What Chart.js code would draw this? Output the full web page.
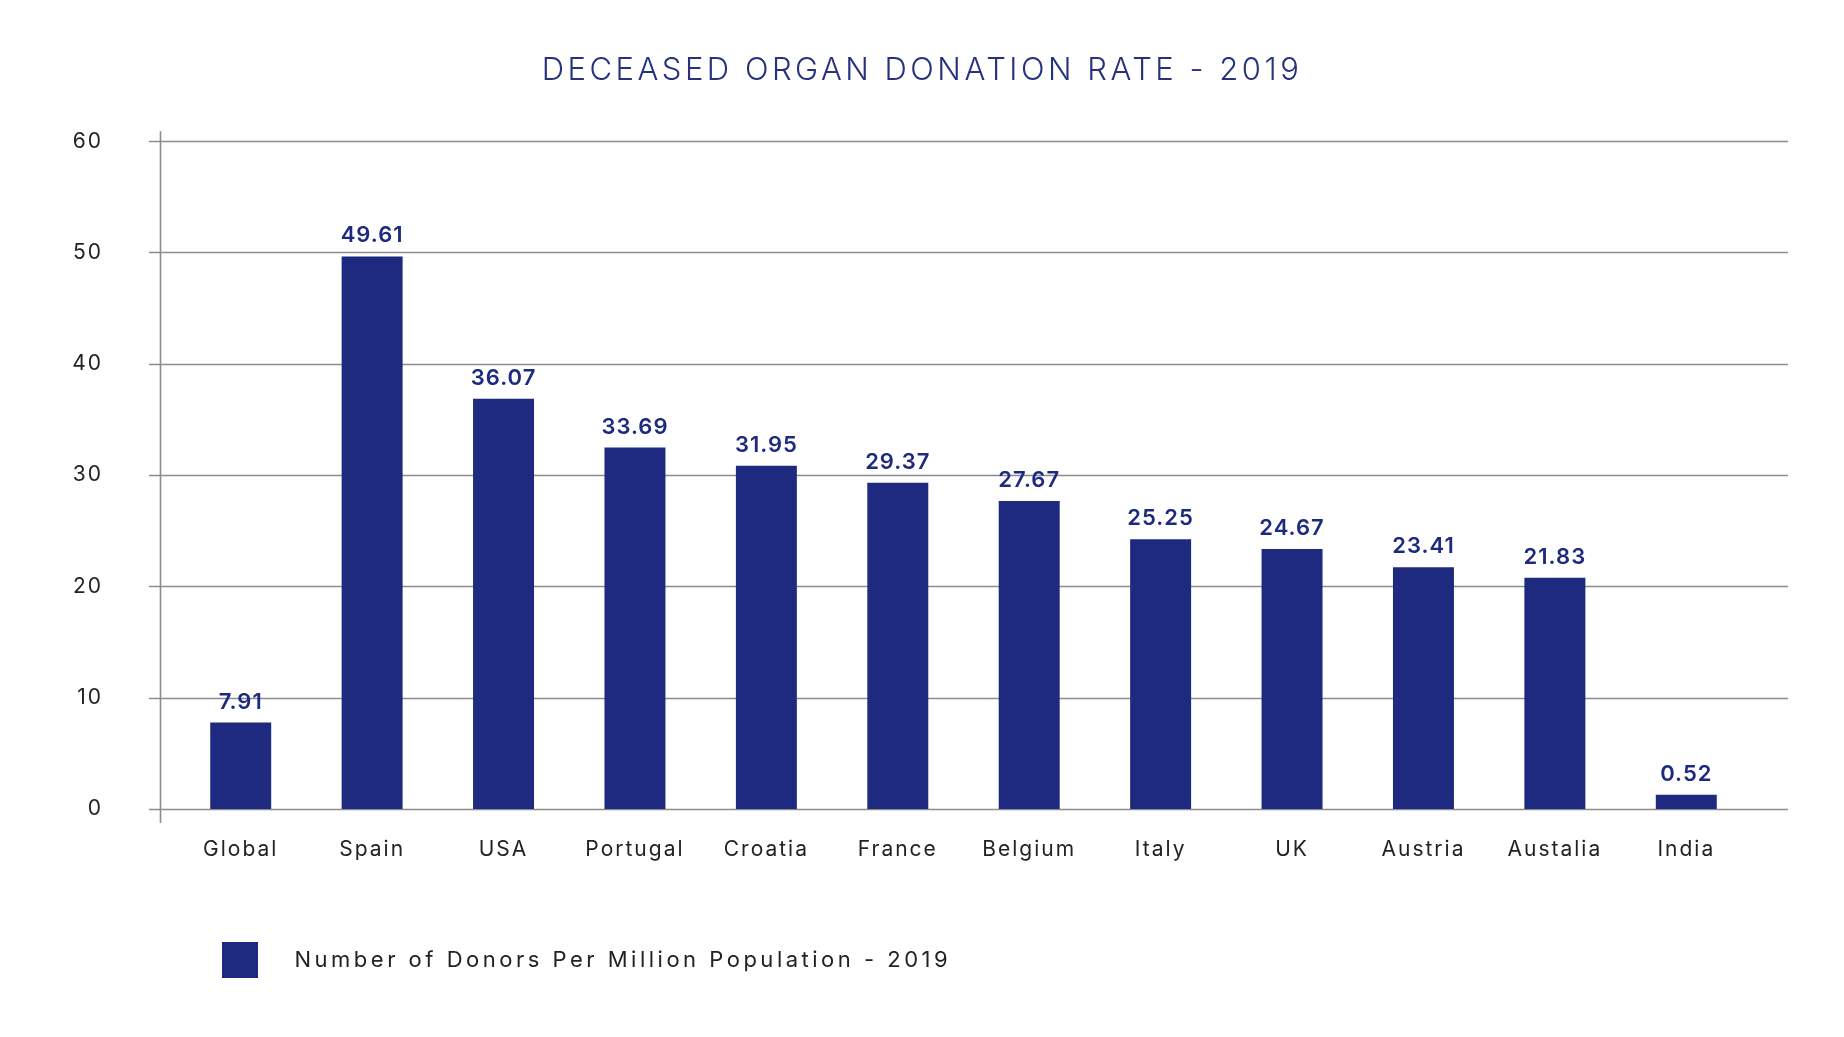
<!DOCTYPE html>
<html>
<head>
<meta charset="utf-8">
<title>Deceased Organ Donation Rate - 2019</title>
<script src="https://cdn.jsdelivr.net/npm/chart.js@4.4.1/dist/chart.umd.min.js"></script>
<style>
    html, body { margin: 0; padding: 0; background: #fff; }
    #wrap { width: 1844px; height: 1037px; }
</style>
</head>
<body>
<div id="wrap"><canvas id="donationChart"></canvas></div>
<script>
const countries = ['Global', 'Spain', 'USA', 'Portugal', 'Croatia', 'France', 'Belgium', 'Italy', 'UK', 'Austria', 'Austalia', 'India'];
// bar heights as they are drawn in the picture
const barHeights = [7.77, 49.65, 36.86, 32.47, 30.83, 29.31, 27.67, 24.23, 23.37, 21.73, 20.78, 1.28];
// figures printed above the bars
const printedValues = ['7.91', '49.61', '36.07', '33.69', '31.95', '29.37', '27.67', '25.25', '24.67', '23.41', '21.83', '0.52'];
const yTicks = [0, 10, 20, 30, 40, 50, 60];

const NAVY = '#1d2a80';
const FONT = 'Inter';

// gridlines run a bit past the plot on both sides, plus the left axis line
const framePlugin = {
    id: 'frame',
    beforeDraw(chart) {
        // title and legend spacing
        chart.ctx.letterSpacing = '3.5px';
    },
    beforeDatasetsDraw(chart) {
        const {ctx, chartArea, scales} = chart;
        ctx.save();
        ctx.strokeStyle = '#8c8c8c';
        ctx.lineWidth = 1.6;
        yTicks.forEach(v => {
            const y = Math.round(scales.y.getPixelForValue(v)) + 0.5;
            ctx.beginPath();
            ctx.moveTo(chartArea.left - 26, y);
            ctx.lineTo(chartArea.right + 36, y);
            ctx.stroke();
        });
        const x = chartArea.left - 14.5;
        ctx.beginPath();
        ctx.moveTo(x, chartArea.top - 10);
        ctx.lineTo(x, chartArea.bottom + 14);
        ctx.stroke();
        ctx.restore();
    },
    afterDatasetsDraw(chart) {
        const {ctx} = chart;
        const meta = chart.getDatasetMeta(0);
        ctx.save();
        ctx.letterSpacing = '1px';
        ctx.fillStyle = NAVY;
        ctx.font = `600 22px ${FONT}`;
        ctx.textAlign = 'center';
        ctx.textBaseline = 'alphabetic';
        meta.data.forEach((bar, i) => {
            ctx.fillText(printedValues[i], bar.x, bar.y - 14);
        });
        ctx.restore();
        // tick labels (z: 1) are drawn after this point
        ctx.letterSpacing = '2px';
    }
};

new Chart(document.getElementById('donationChart'), {
    type: 'bar',
    data: {
        labels: countries,
        datasets: [{
            label: 'Number of Donors Per Million Population - 2019',
            data: barHeights,
            backgroundColor: NAVY,
            borderWidth: 0,
            barPercentage: 0.464,
            categoryPercentage: 1
        }]
    },
    options: {
        responsive: true,
        maintainAspectRatio: false,
        animation: false,
        layout: { padding: { left: 0, right: 0, top: 0, bottom: 49 } },
        scales: {
            x: {
                grid: { display: false, drawTicks: false },
                border: { display: false },
                ticks: {
                    z: 1,
                    padding: 28,
                    color: '#222',
                    font: { family: FONT, size: 21 }
                },
                afterFit: s => { s.height = 86; }
            },
            y: {
                min: 0,
                max: 60,
                grid: { display: false, drawTicks: false },
                border: { display: false },
                ticks: {
                    z: 1,
                    stepSize: 10,
                    padding: 72,
                    color: '#222',
                    font: { family: FONT, size: 21 }
                },
                afterFit: s => { s.width = 175; }
            },
            // empty right margin so the title stays centred on the page
            yRight: {
                position: 'right',
                grid: { display: false },
                border: { display: false },
                ticks: { display: false },
                afterFit: s => { s.width = 92; }
            }
        },
        plugins: {
            title: {
                display: true,
                text: 'DECEASED ORGAN DONATION RATE - 2019',
                color: '#27327c',
                font: { family: FONT, size: 31, weight: '300' },
                padding: { top: 52, bottom: 52 }
            },
            legend: {
                position: 'bottom',
                align: 'start',
                fullSize: false,
                labels: {
                    boxWidth: 36,
                    boxHeight: 36,
                    padding: 47,
                    color: '#222',
                    font: { family: FONT, size: 22 },
                    generateLabels(chart) {
                        return Chart.defaults.plugins.legend.labels.generateLabels(chart)
                            .map(item => ({ ...item, text: '\u2003' + item.text }));
                    }
                }
            },
            tooltip: { enabled: false }
        }
    },
    plugins: [framePlugin]
});
</script>
</body>
</html>
